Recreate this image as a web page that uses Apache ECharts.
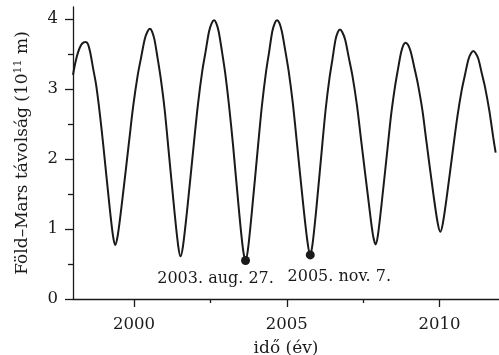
<!DOCTYPE html>
<html>
<head>
<meta charset="utf-8">
<script src="https://cdn.jsdelivr.net/npm/echarts@6.0.0/dist/echarts.min.js"></script>
<style>
  html, body { margin: 0; padding: 0; background: #fff; }
  #chart { width: 499px; height: 355px; }
</style>
</head>
<body>
<div id="chart"></div>
<script>
// Föld–Mars távolság (years, 10^11 m)
var years = [
    1998.00, 1998.08, 1998.17, 1998.27, 1998.35, 1998.42,
    1998.49, 1998.56, 1998.66, 1998.76, 1998.88, 1999.00, 1999.19, 1999.31, 1999.38,
    1999.466, 1999.608, 1999.836, 1999.973, 2000.121, 2000.235, 2000.349, 2000.44, 2000.52,
    2000.59, 2000.67, 2000.77, 2000.87, 2001.00, 2001.12, 2001.32, 2001.445, 2001.52,
    2001.603, 2001.74, 2001.96, 2002.092, 2002.235, 2002.345, 2002.455, 2002.543, 2002.62,
    2002.69, 2002.77, 2002.88, 2002.98, 2003.11, 2003.24, 2003.44, 2003.57, 2003.65,
    2003.727, 2003.856, 2004.062, 2004.186, 2004.32, 2004.423, 2004.526, 2004.608, 2004.68,
    2004.76, 2004.84, 2004.95, 2005.06, 2005.20, 2005.33, 2005.55, 2005.69, 2005.77,
    2005.843, 2005.964, 2006.158, 2006.274, 2006.401, 2006.498, 2006.595, 2006.672, 2006.74,
    2006.82, 2006.915, 2007.03, 2007.15, 2007.30, 2007.44, 2007.68, 2007.82, 2007.91,
    2007.984, 2008.106, 2008.302, 2008.42, 2008.547, 2008.645, 2008.743, 2008.821, 2008.89,
    2008.97, 2009.06, 2009.175, 2009.29, 2009.44, 2009.57, 2009.80, 2009.945, 2010.03,
    2010.111, 2010.246, 2010.462, 2010.592, 2010.732, 2010.84, 2010.948, 2011.034, 2011.11,
    2011.186, 2011.273, 2011.382, 2011.491, 2011.633, 2011.764, 2011.84
];
var distances = [
    3.20, 3.38, 3.53, 3.63, 3.665, 3.67,
    3.64, 3.53, 3.29, 3.05, 2.64, 2.16, 1.35, 0.90, 0.77,
    0.91, 1.39, 2.25, 2.76, 3.20, 3.46, 3.71, 3.82, 3.86,
    3.82, 3.70, 3.44, 3.16, 2.71, 2.17, 1.26, 0.76, 0.61,
    0.76, 1.28, 2.23, 2.78, 3.26, 3.54, 3.82, 3.94, 3.98,
    3.94, 3.82, 3.53, 3.24, 2.76, 2.20, 1.24, 0.70, 0.55,
    0.70, 1.24, 2.20, 2.76, 3.24, 3.53, 3.82, 3.94, 3.98,
    3.94, 3.82, 3.55, 3.26, 2.79, 2.24, 1.30, 0.78, 0.63,
    0.78, 1.27, 2.18, 2.71, 3.16, 3.43, 3.70, 3.81, 3.85,
    3.81, 3.70, 3.45, 3.19, 2.76, 2.25, 1.39, 0.92, 0.78,
    0.91, 1.36, 2.16, 2.64, 3.04, 3.29, 3.52, 3.63, 3.66,
    3.63, 3.53, 3.31, 3.08, 2.70, 2.26, 1.50, 1.08, 0.96,
    1.08, 1.48, 2.20, 2.62, 2.99, 3.21, 3.42, 3.51, 3.54,
    3.51, 3.43, 3.23, 3.03, 2.69, 2.30, 2.09
];

// marked closest approaches
var closestYears = [2003.65, 2005.77];
var closestDist = [0.55, 0.63];
var closestLabels = ['2003. aug. 27.', '2005. nov. 7.'];

// ticks
var xMajor = [2000, 2005, 2010];
var xMinor = [2002.5, 2007.5];
var yMajor = [0, 1, 2, 3, 4];
var yMinor = [0.5, 1.5, 2.5, 3.5];

var font = 'DejaVu Serif';
var ink = '#1a1a1a';

var lineData = years.map(function (y, i) { return [y, distances[i]]; });
var labelStyles = [
    {offset: [-30, 0], distance: 6},
    {offset: [29, 0], distance: 9}
];
var pointData = closestYears.map(function (y, i) {
    return {
        value: [y, closestDist[i]],
        label: {
            show: true,
            position: 'bottom',
            distance: labelStyles[i].distance,
            offset: labelStyles[i].offset,
            formatter: closestLabels[i],
            fontFamily: font,
            fontSize: 16,
            color: ink,
            opacity: 1
        }
    };
});

var axisLineStyle = {color: ink, width: 1.3};

var option = {
    animation: false,
    backgroundColor: '#fff',
    grid: {left: 73, right: 0, top: 7, bottom: 56, containLabel: false, outerBoundsMode: 'none'},
    xAxis: [
        {
            type: 'value',
            min: 1998.0,
            max: 2011.95,
            position: 'bottom',
            name: 'idő (év)',
            nameLocation: 'middle',
            nameGap: 41,
            nameTextStyle: {fontFamily: font, fontSize: 17, color: ink},
            axisLine: {lineStyle: axisLineStyle},
            axisTick: {customValues: xMajor, length: 8, lineStyle: axisLineStyle},
            axisLabel: {
                customValues: xMajor,
                formatter: function (v) { return String(v); },
                fontFamily: font, fontSize: 16.5, color: ink, margin: 17
            },
            splitLine: {show: false}
        },
        {
            type: 'value',
            min: 1998.0,
            max: 2011.95,
            position: 'bottom',
            axisLine: {show: false},
            axisTick: {customValues: xMinor, length: 4, lineStyle: axisLineStyle},
            axisLabel: {show: false},
            splitLine: {show: false}
        }
    ],
    yAxis: [
        {
            type: 'value',
            min: 0,
            max: 4.17,
            position: 'left',
            name: '{n|Föld–Mars távolság (10}{s|11}{n| m)}',
            nameLocation: 'middle',
            nameGap: 40,
            nameTextStyle: {
                fontFamily: font, fontSize: 17, color: ink,
                rich: {
                    n: {fontFamily: font, fontSize: 17, color: ink, lineHeight: 20},
                    s: {fontFamily: font, fontSize: 11, color: ink, lineHeight: 20, verticalAlign: 'top'}
                }
            },
            axisLine: {lineStyle: axisLineStyle},
            axisTick: {customValues: yMajor, length: 8, lineStyle: axisLineStyle},
            axisLabel: {
                customValues: yMajor,
                formatter: function (v) { return String(v); },
                fontFamily: font, fontSize: 16.5, color: ink, margin: 15
            },
            splitLine: {show: false}
        },
        {
            type: 'value',
            min: 0,
            max: 4.17,
            position: 'left',
            axisLine: {show: false},
            axisTick: {customValues: yMinor, length: 5, lineStyle: axisLineStyle},
            axisLabel: {show: false},
            splitLine: {show: false}
        }
    ],
    series: [
        {
            type: 'line',
            data: lineData,
            smooth: 0.3,
            showSymbol: false,
            lineStyle: {color: ink, width: 2},
            z: 2
        },
        {
            type: 'scatter',
            data: pointData,
            symbol: 'circle',
            symbolSize: 9,
            itemStyle: {color: ink, opacity: 1},
            z: 3
        }
    ]
};

echarts.init(document.getElementById('chart')).setOption(option);
</script>
</body>
</html>
